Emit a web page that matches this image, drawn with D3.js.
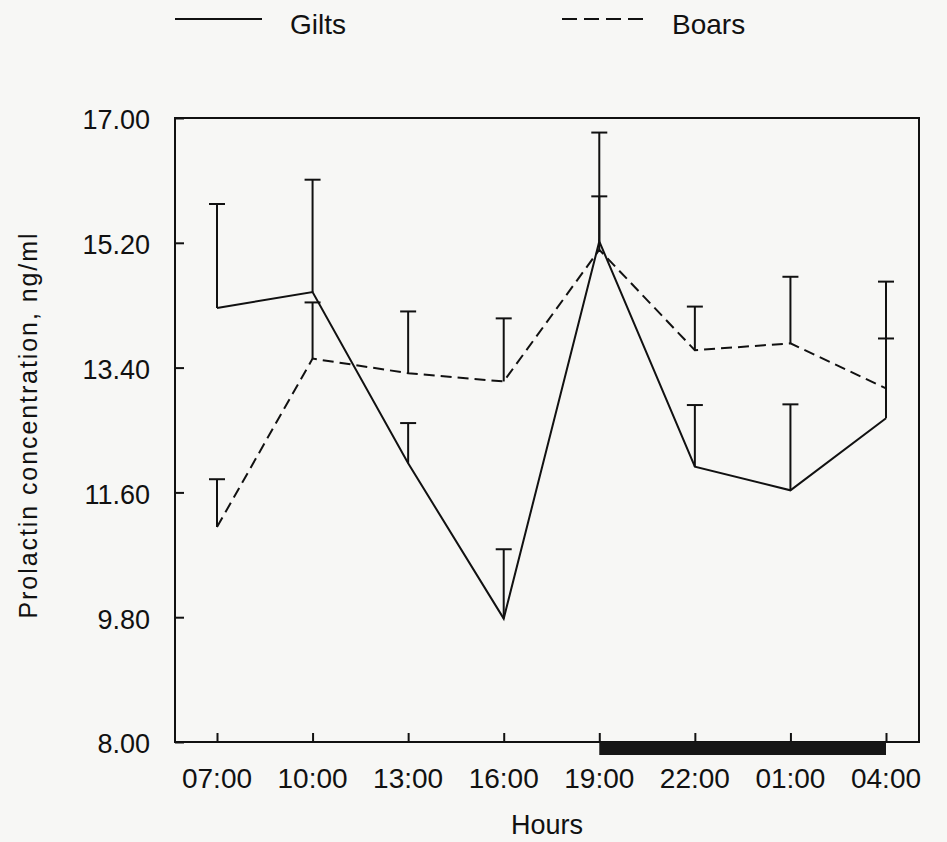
<!DOCTYPE html>
<html>
<head>
<meta charset="utf-8">
<script src="https://cdn.jsdelivr.net/npm/d3@7"></script>
<style>
  body { margin: 0; background: #f7f7f5; }
  svg { display: block; font-family: "Liberation Sans", Arial, sans-serif; }
</style>
</head>
<body>
<div id="chart"></div>
<script>
var hours = ["07:00", "10:00", "13:00", "16:00", "19:00", "22:00", "01:00", "04:00"];
var gilts = [14.26, 14.49, 12.02, 9.78, 15.22, 11.97, 11.63, 12.67];
var giltsSE = [1.50, 1.62, 0.58, 1.00, 1.57, 0.89, 1.24, 1.97];
var boars = [11.10, 13.53, 13.32, 13.20, 15.10, 13.65, 13.75, 13.10];
var boarsSE = [0.69, 0.81, 0.89, 0.91, 0.77, 0.63, 0.96, 0.72];
var yTicks = [8.00, 9.80, 11.60, 13.40, 15.20, 17.00];
var darkPeriod = ["19:00", "04:00"];

var width = 947, height = 842;
var margin = {top: 118, right: 28, bottom: 100, left: 175};
var chartWidth = width - margin.left - margin.right;
var chartHeight = height - margin.top - margin.bottom;

var svg = d3.select("#chart").append("svg")
    .attr("width", width)
    .attr("height", height);

var g = svg.append("g")
    .attr("transform", `translate(${margin.left}, ${margin.top})`);

var xScale = d3.scalePoint()
    .domain(hours)
    .range([42, 711]);

var yScale = d3.scaleLinear()
    .domain([8, 17])
    .range([chartHeight, 0]);

// frame
g.append("rect")
    .attr("width", chartWidth)
    .attr("height", chartHeight)
    .attr("fill", "none")
    .attr("stroke", "#111")
    .attr("stroke-width", 2);

// dark period bar under the axis
g.append("rect")
    .attr("x", xScale(darkPeriod[0]))
    .attr("y", chartHeight)
    .attr("width", xScale(darkPeriod[1]) - xScale(darkPeriod[0]))
    .attr("height", 13)
    .attr("fill", "#161616");

var yAxis = d3.axisRight(yScale)
    .tickValues(yTicks)
    .tickSize(9)
    .tickFormat("");
g.append("g").attr("class", "y axis").call(yAxis);

var xAxis = d3.axisTop(xScale).tickSize(9).tickFormat("");
g.append("g")
    .attr("class", "x axis")
    .attr("transform", `translate(0,${chartHeight})`)
    .call(xAxis);

g.selectAll(".axis .domain").remove();
g.selectAll(".axis line").attr("stroke", "#111").attr("stroke-width", 2);

// tick labels
g.selectAll(".ylab")
    .data(yTicks)
    .enter().append("text")
    .attr("class", "ylab")
    .attr("x", -25)
    .attr("y", d => yScale(d))
    .attr("dy", "0.42em")
    .attr("text-anchor", "end")
    .attr("font-size", 27)
    .attr("fill", "#111")
    .text(d => d3.format(".2f")(d));

g.selectAll(".xlab")
    .data(hours)
    .enter().append("text")
    .attr("class", "xlab")
    .attr("x", d => xScale(d))
    .attr("y", chartHeight + 46)
    .attr("text-anchor", "middle")
    .attr("font-size", 28)
    .attr("fill", "#111")
    .text(d => d);

// axis titles
svg.append("text")
    .attr("x", margin.left + chartWidth / 2)
    .attr("y", 834)
    .attr("text-anchor", "middle")
    .attr("font-size", 27)
    .attr("fill", "#111")
    .text("Hours");

svg.append("text")
    .attr("transform", "translate(37, 426) rotate(-90)")
    .attr("text-anchor", "middle")
    .attr("font-size", 25)
    .attr("textLength", 385)
    .attr("lengthAdjust", "spacing")
    .attr("fill", "#111")
    .text("Prolactin concentration, ng/ml");

var series = [
  {name: "Gilts", mean: gilts, se: giltsSE, dash: null},
  {name: "Boars", mean: boars, se: boarsSE, dash: "11,6"}
];

var line = d3.line()
    .x((d, i) => xScale(hours[i]))
    .y(d => yScale(d));

series.forEach(function(s) {
  // error bars, upward only
  var bars = g.selectAll(".err-" + s.name)
      .data(s.mean)
      .enter().append("g")
      .attr("class", "err-" + s.name);
  bars.append("line")
      .attr("x1", (d, i) => xScale(hours[i]))
      .attr("x2", (d, i) => xScale(hours[i]))
      .attr("y1", d => yScale(d))
      .attr("y2", (d, i) => yScale(d + s.se[i]))
      .attr("stroke", "#111")
      .attr("stroke-width", 2);
  bars.append("line")
      .attr("x1", (d, i) => xScale(hours[i]) - 8)
      .attr("x2", (d, i) => xScale(hours[i]) + 8)
      .attr("y1", (d, i) => yScale(d + s.se[i]))
      .attr("y2", (d, i) => yScale(d + s.se[i]))
      .attr("stroke", "#111")
      .attr("stroke-width", 2);

  g.append("path")
      .datum(s.mean)
      .attr("d", line)
      .attr("fill", "none")
      .attr("stroke", "#111")
      .attr("stroke-width", 2)
      .attr("stroke-dasharray", s.dash);
});

// legend
var legend = [
  {name: "Gilts", x1: 175, x2: 262, tx: 290, dash: null},
  {name: "Boars", x1: 562, x2: 650, tx: 672, dash: "15,7"}
];
legend.forEach(function(l) {
  svg.append("line")
      .attr("x1", l.x1).attr("x2", l.x2)
      .attr("y1", 19).attr("y2", 19)
      .attr("stroke", "#111")
      .attr("stroke-width", 2)
      .attr("stroke-dasharray", l.dash);
  svg.append("text")
      .attr("x", l.tx)
      .attr("y", 34)
      .attr("font-size", 28)
      .attr("fill", "#111")
      .text(l.name);
});
</script>
</body>
</html>
